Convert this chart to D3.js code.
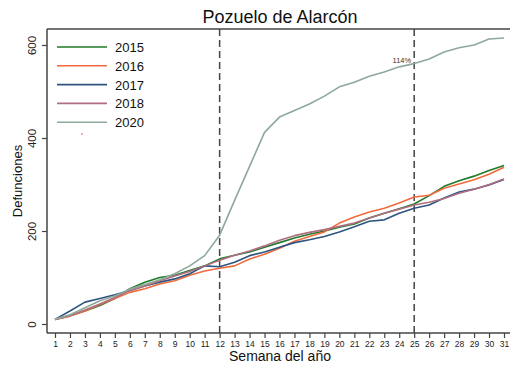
<!DOCTYPE html>
<html><head><meta charset="utf-8">
<script src="https://cdn.jsdelivr.net/npm/d3@7"></script>
<style>body{margin:0;background:#fff}svg{display:block}text{font-family:"Liberation Sans",Arial,sans-serif}</style>
</head><body><svg id="c" width="510" height="367"></svg>
<script>
const weeks = d3.range(1, 32);
const yTicks = [0, 200, 400, 600];
const seriesNames = ["2015", "2016", "2017", "2018", "2020"];
const seriesColors = ["#1f7a2a", "#f26a3c", "#2d5580", "#b06f80", "#8ea99a"];
const v2015 = [10,18,28,40,55,76,90,100,105,115,125,140,148,155,165,175,185,193,200,208,215,228,238,248,258,276,296,308,318,330,341];
const v2016 = [10,17,28,42,55,68,76,86,93,105,114,120,125,140,150,163,178,188,198,217,230,241,249,260,273,277,292,301,310,322,337];
const v2017 = [10,28,47,55,63,72,82,90,97,108,125,123,133,147,155,165,175,181,188,198,209,221,224,238,249,256,271,284,290,299,311];
const v2018 = [10,18,30,43,57,72,82,93,103,113,125,137,148,157,168,180,190,197,203,210,217,228,238,247,256,262,270,281,290,300,312];
const v2020 = [10,20,35,50,60,75,85,95,108,125,147,191,266,339,412,445,459,473,490,510,520,533,542,553,560,570,585,594,600,613,615];
const seriesValues = [v2015, v2016, v2017, v2018, v2020];
const markers = [{week: 12}, {week: 25, label: "114%"}];

(function(){
const svg = d3.select("#c");
const x = d3.scaleLinear().domain([1, 31]).range([55, 504]);
const y = d3.scaleLinear().domain([0, 600]).range([324, 45]);
const pTop = 29, pBottom = 333, pLeft = 47, pRight = 510;

svg.append("line").attr("x1", pLeft).attr("x2", pRight).attr("y1", pTop).attr("y2", pTop).attr("stroke", "#444").attr("stroke-width", 1.5);

svg.append("text").attr("x", 280).attr("y", 23).attr("text-anchor", "middle").attr("font-size", 18).attr("fill", "#111").text("Pozuelo de Alarcón");

const ya = svg.append("g").attr("transform", `translate(${pLeft},0)`)
  .call(d3.axisLeft(y).tickValues(yTicks).tickSize(5).tickFormat(d3.format("d")));
ya.select(".domain").remove();
ya.selectAll(".tick line").attr("stroke", "#444").attr("stroke-width", 1.2);
ya.selectAll(".tick text").attr("font-size", 11.5).attr("fill", "#222")
  .attr("transform", "rotate(-90)").attr("text-anchor", "middle").attr("x", 0).attr("y", -11).attr("dy", 0);
svg.append("line").attr("x1", pLeft).attr("x2", pLeft).attr("y1", pTop).attr("y2", pBottom).attr("stroke", "#444").attr("stroke-width", 1.5);

const xa = svg.append("g").attr("transform", `translate(0,${pBottom})`)
  .call(d3.axisBottom(x).tickValues(weeks).tickSize(5).tickFormat(d3.format("d")));
xa.select(".domain").remove();
xa.selectAll(".tick line").attr("stroke", "#444").attr("stroke-width", 1.2);
xa.selectAll(".tick text").attr("font-size", 8.5).attr("fill", "#222").attr("y", 8);
svg.append("line").attr("x1", pLeft).attr("x2", pRight).attr("y1", pBottom).attr("y2", pBottom).attr("stroke", "#444").attr("stroke-width", 1.5);

svg.append("text").attr("x", 280).attr("y", 361).attr("text-anchor", "middle").attr("font-size", 14).attr("fill", "#111").text("Semana del año");
svg.append("text").attr("transform", "translate(22,181) rotate(-90)").attr("text-anchor", "middle").attr("font-size", 13).attr("fill", "#111").text("Defunciones");

markers.forEach(m => {
  svg.append("line").attr("x1", x(m.week)).attr("x2", x(m.week)).attr("y1", pTop).attr("y2", pBottom)
    .attr("stroke", "#444").attr("stroke-width", 1.5).attr("stroke-dasharray", "7,4");
  if (m.label) svg.append("text").attr("x", x(m.week) - 3).attr("y", 63).attr("text-anchor", "end")
    .attr("font-size", 7.5).attr("fill", "#333").text(m.label);
});

const line = d3.line().x((d, i) => x(weeks[i])).y(d => y(d));
seriesValues.forEach((vals, k) => {
  svg.append("path").datum(vals).attr("d", line).attr("fill", "none")
    .attr("stroke", seriesColors[k]).attr("stroke-width", 1.6).attr("stroke-linejoin", "round");
});

seriesNames.forEach((n, k) => {
  const ly = 47 + k * 18.8;
  svg.append("line").attr("x1", 57).attr("x2", 107).attr("y1", ly).attr("y2", ly)
    .attr("stroke", seriesColors[k]).attr("stroke-width", 1.6);
  svg.append("text").attr("x", 115).attr("y", ly + 5).attr("font-size", 13).attr("fill", "#111").text(n);
});
svg.append("circle").attr("cx", 82).attr("cy", 134).attr("r", 0.8).attr("fill", "#b05050");
})();
</script></body></html>
